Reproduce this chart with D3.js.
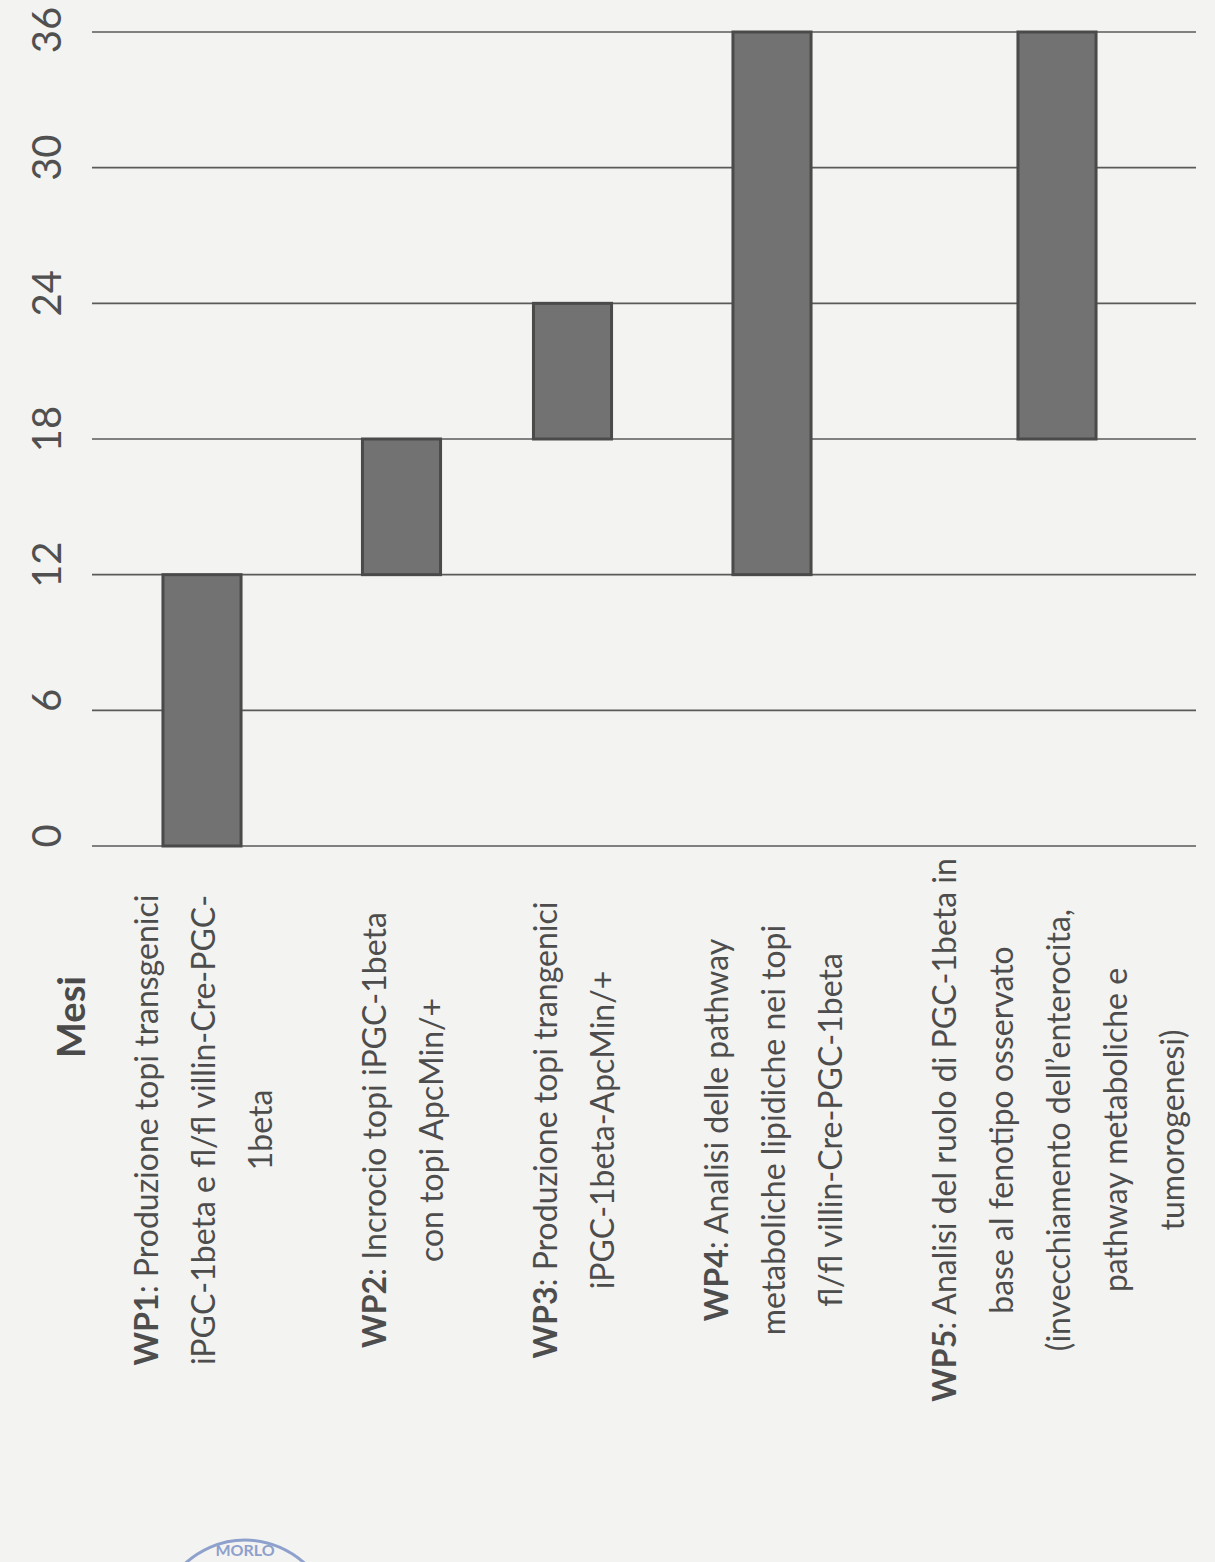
<!DOCTYPE html>
<html><head><meta charset="utf-8">
<script src="https://cdn.jsdelivr.net/npm/d3@7"></script>
<style>
html,body{margin:0;padding:0;background:#f3f3f1;}
svg{display:block;}
</style></head>
<body>
<svg id="chart" width="1215" height="1562"></svg>
<script>
// ---- data ----
const categories = ["WP1", "WP2", "WP3", "WP4", "WP5"];
const startMonths = [0, 12, 18, 12, 18];
const endMonths = [12, 18, 24, 36, 36];
const descriptions = [
  ["Produzione topi transgenici", "iPGC-1beta e fl/fl villin-Cre-PGC-", "1beta"],
  ["Incrocio topi iPGC-1beta", "con topi ApcMin/+"],
  ["Produzione topi trangenici", "iPGC-1beta-ApcMin/+"],
  ["Analisi delle pathway", "metaboliche lipidiche nei topi", "fl/fl villin-Cre-PGC-1beta"],
  ["Analisi del ruolo di PGC-1beta in", "base al fenotipo osservato", "(invecchiamento dell\u2019enterocita,", "pathway metaboliche e", "tumorogenesi)"]
];
const tickValues = [0, 6, 12, 18, 24, 30, 36];
const axisTitle = "Mesi";

// ---- layout ----
const svg = d3.select("#chart");
const W = 1215, H = 1562;
const font = "Lato, 'Liberation Sans', Arial, sans-serif";

svg.append("rect").attr("width", W).attr("height", H).attr("fill", "#f3f3f1");

// value axis (months), drawn vertically, increasing upward
const y = d3.scaleLinear().domain([0, 36]).range([846, 32]);

// category positions: each category takes as many units as it has label lines,
// with one unit of gap between categories
const gapUnits = 1;
let acc = 0;
const rows = categories.map((c, i) => {
  const n = descriptions[i].length;
  const r = {c, s: startMonths[i], e: endMonths[i], lines: descriptions[i], u0: acc, n};
  acc += n + gapUnits;
  return r;
});
const totalUnits = acc - gapUnits;
const x = d3.scaleLinear().domain([0, totalUnits]).range([116.5, 116.5 + totalUnits * 57]);
const barUnits = 1.37;

const gridX0 = 92, gridX1 = 1196;

// gridlines
svg.append("g").selectAll("line").data(tickValues).join("line")
  .attr("x1", gridX0).attr("x2", gridX1)
  .attr("y1", d => y(d)).attr("y2", d => y(d))
  .attr("stroke", "#5a5a5a").attr("stroke-width", 1.6);

// tick labels (rotated)
svg.append("g").selectAll("text").data(tickValues).join("text")
  .attr("transform", d => `translate(46,${Math.max(y(d) - 10, 30)}) rotate(-90)`)
  .attr("text-anchor", "middle").attr("dominant-baseline", "central")
  .attr("font-family", font)
  .attr("font-size", 40).attr("fill", "#505050")
  .text(d => d);

// bars
svg.append("g").selectAll("rect").data(rows).join("rect")
  .attr("x", d => x(d.u0 + d.n / 2 - barUnits / 2))
  .attr("width", x(barUnits) - x(0))
  .attr("y", d => y(d.e))
  .attr("height", d => y(d.s) - y(d.e))
  .attr("fill", "#727272")
  .attr("stroke", "#4a4a4a").attr("stroke-width", 3);

// axis title
svg.append("text")
  .attr("transform", `translate(70,1017) rotate(-90)`)
  .attr("text-anchor", "middle").attr("dominant-baseline", "central")
  .attr("font-family", font).attr("font-weight", "bold")
  .attr("font-size", 38).attr("fill", "#4a4a4a")
  .text(axisTitle);

// category labels (rotated, multi-line)
const labelCenterY = 1130;
const lg = svg.append("g").selectAll("g").data(rows).join("g")
  .attr("transform", d => `translate(${x(d.u0)},${labelCenterY}) rotate(-90)`);

lg.each(function(d) {
  const g = d3.select(this);
  d.lines.forEach((ln, i) => {
    const t = g.append("text")
      .attr("x", 0).attr("y", x(i + 0.5) - x(0))
      .attr("text-anchor", "middle").attr("dominant-baseline", "central")
      .attr("font-family", font).attr("font-size", 32).attr("fill", "#4d4d4d");
    if (i === 0) {
      t.append("tspan").attr("font-weight", "bold").text(d.c);
      t.append("tspan").text(": " + ln);
    } else {
      t.text(ln);
    }
  });
});

// partial stamp at the bottom edge
svg.append("ellipse").attr("cx", 245).attr("cy", 1645).attr("rx", 95).attr("ry", 105)
  .attr("fill", "none").attr("stroke", "#8ea0cc").attr("stroke-width", 3);
svg.append("text").attr("x", 245).attr("y", 1556).attr("text-anchor", "middle")
  .attr("font-family", font).attr("font-size", 16).attr("font-weight", "bold")
  .attr("fill", "#8ea0cc").text("MORLO");
</script>
</body></html>
